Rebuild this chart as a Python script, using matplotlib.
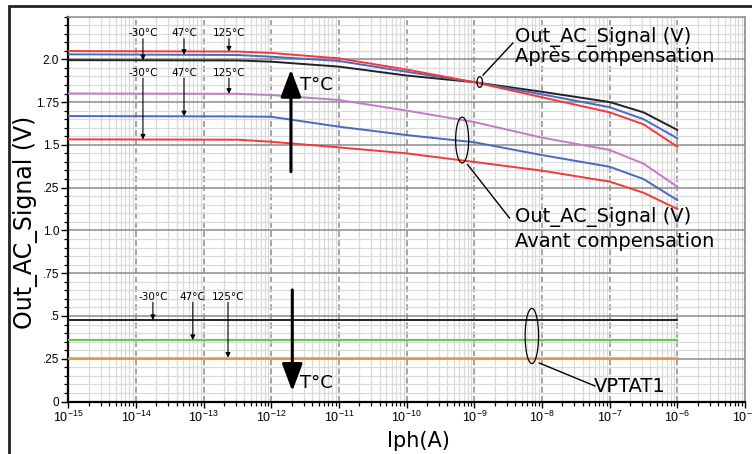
import numpy as np
import matplotlib
matplotlib.use("Agg")
import matplotlib.pyplot as plt
from matplotlib import font_manager
from matplotlib.patches import Rectangle
from matplotlib.ticker import FixedLocator, LogLocator, NullFormatter, FuncFormatter

# ---- data -------------------------------------------------------------
log_iph = [-15, -12.5, -12, -11, -10, -9, -8, -7, -6.5, -6]

# output signal after compensation (-30°C, 47°C, 125°C)
after_m30 = [1.995, 1.993, 1.986, 1.957, 1.905, 1.866, 1.810, 1.750, 1.690, 1.587]
after_47 = [2.029, 2.025, 2.015, 1.990, 1.927, 1.866, 1.795, 1.720, 1.650, 1.538]
after_125 = [2.048, 2.045, 2.037, 2.005, 1.940, 1.866, 1.778, 1.690, 1.620, 1.489]

# output signal before compensation (-30°C, 47°C, 125°C)
before_m30 = [1.532, 1.530, 1.518, 1.485, 1.450, 1.400, 1.349, 1.285, 1.220, 1.125]
before_47 = [1.668, 1.666, 1.664, 1.606, 1.557, 1.515, 1.440, 1.372, 1.300, 1.177]
before_125 = [1.800, 1.798, 1.791, 1.762, 1.700, 1.633, 1.542, 1.470, 1.390, 1.255]

# VPTAT1 levels (-30°C, 47°C, 125°C)
vptat_m30 = [0.476] * len(log_iph)
vptat_47 = [0.359] * len(log_iph)
vptat_125 = [0.256] * len(log_iph)

y_ticks = [0, 0.25, 0.5, 0.75, 1.0, 1.25, 1.5, 1.75, 2.0]
y_tick_labels = ["0", ".25", ".5", ".75", "1.0", ".25", "1.5", "1.75", "2.0"]
temp_labels = ["-30°C", "47°C", "125°C"]

iph = 10.0 ** np.array(log_iph)

# ---- fonts ------------------------------------------------------------
installed = {f.name for f in font_manager.fontManager.ttflist}
if "Liberation Sans Narrow" in installed:
    xtick_family, xtick_size = "Liberation Sans Narrow", 10.5
else:
    xtick_family, xtick_size = "Liberation Sans", 9
plt.rcParams["mathtext.fontset"] = "custom"
plt.rcParams["mathtext.rm"] = xtick_family
plt.rcParams["mathtext.it"] = xtick_family
plt.rcParams["mathtext.bf"] = xtick_family
WIDE = ["DejaVu Sans"]

# ---- figure -----------------------------------------------------------
W, H = 752, 454
fig = plt.figure(figsize=(W / 100, H / 100), dpi=100)
ax = fig.add_axes([68.3 / W, 1 - 401.5 / H, (745 - 68.3) / W, (401.5 - 16.5) / H])

RED, BLUE, BLACK = "#f23a3a", "#4a68c4", "#222222"
PURPLE, GREEN, ORANGE = "#c57ac8", "#72c353", "#e39a45"

ax.plot(iph, after_m30, color=BLACK, lw=1.4, zorder=5)
ax.plot(iph, after_47, color=BLUE, lw=1.4, zorder=5)
ax.plot(iph, after_125, color=RED, lw=1.4, zorder=5)
ax.plot(iph, before_125, color=PURPLE, lw=1.4, zorder=5)
ax.plot(iph, before_47, color=BLUE, lw=1.4, zorder=5)
ax.plot(iph, before_m30, color=RED, lw=1.4, zorder=5)
ax.plot(iph, vptat_m30, color=BLACK, lw=1.4, zorder=5)
ax.plot(iph, vptat_47, color=GREEN, lw=1.6, zorder=5)
ax.plot(iph, vptat_125, color=ORANGE, lw=1.8, zorder=5)

ax.set_xscale("log")
ax.set_xlim(1e-15, 1e-5)
ax.set_ylim(0, 2.25)

# grid
ax.set_axisbelow(True)
ax.xaxis.set_major_locator(LogLocator(base=10, numticks=20))
ax.xaxis.set_minor_locator(LogLocator(base=10, subs=np.arange(2, 10), numticks=20))
ax.xaxis.set_minor_formatter(NullFormatter())
ax.yaxis.set_major_locator(FixedLocator(y_ticks))
ax.yaxis.set_minor_locator(FixedLocator(np.round(np.arange(0, 2.2501, 0.05), 2)))
ax.set_yticklabels(y_tick_labels)
ax.grid(which="minor", color="#dadada", lw=0.9)
ax.grid(which="major", axis="y", color="#8c8c8c", lw=1.1)
ax.grid(which="major", axis="x", color="#8c8c8c", lw=1.1, ls=(0, (4, 2)))


def sci(v, _):
    return r"$10^{%d}$" % int(round(np.log10(v)))


ax.xaxis.set_major_formatter(FuncFormatter(sci))
for lab in ax.get_xticklabels():
    lab.set_family(xtick_family)
    lab.set_fontsize(xtick_size)
for lab in ax.get_yticklabels():
    lab.set_family(["Liberation Sans", "DejaVu Sans"])
    lab.set_fontsize(8.5)

ax.tick_params(which="major", direction="out", length=4, width=1.0, color="black", pad=2)
ax.tick_params(which="minor", direction="out", length=3, width=0.9, color="black")
ax.tick_params(axis="y", which="major", length=5, pad=1.5)

for s in ("left", "bottom"):
    ax.spines[s].set_color("black")
    ax.spines[s].set_linewidth(1.6)
for s in ("top", "right"):
    ax.spines[s].set_color("#8c8c8c")
    ax.spines[s].set_linewidth(1.1)

ax.set_xlabel("Iph(A)", family=WIDE, fontsize=15, va="top")
ax.xaxis.set_label_coords((418 - 68.3) / (745 - 68.3), -(431 - 401.5) / 385)
ax.set_ylabel("Out_AC_Signal (V)", family=WIDE, fontsize=17)
ax.yaxis.set_label_coords(-(68.3 - 38) / (745 - 68.3), 0.466)

# ---- temperature markers ---------------------------------------------
small = dict(family=WIDE, fontsize=7.5, ha="center", va="baseline")
arrow_thin = dict(arrowstyle="-|>", color="black", lw=0.8, mutation_scale=7, shrinkA=0, shrinkB=0)


def mark(log_x, y_start, series):
    y_tip = np.interp(log_x, log_iph, series)
    ax.annotate("", xy=(10 ** log_x, y_tip), xytext=(10 ** log_x, y_start),
                arrowprops=arrow_thin, zorder=7)


top_x = [-13.897, -13.29, -12.626]
for lx, t, s in zip(top_x, temp_labels, [after_m30, after_47, after_125]):
    ax.text(10 ** lx, 2.135, t, **small)
    mark(lx, 2.12, s)
for lx, t, s in zip(top_x, temp_labels, [before_m30, before_47, before_125]):
    ax.text(10 ** lx, 1.905, t, **small)
    mark(lx, 1.89, s)
bot_x = [-13.75, -13.16, -12.64]
for lx, t, s in zip(bot_x, temp_labels, [vptat_m30, vptat_47, vptat_125]):
    ax.text(10 ** lx, 0.595, t, **small)
    mark(lx, 0.58, s)

# ---- large T°C arrows -------------------------------------------------
arrow_big = dict(arrowstyle="-|>,head_length=1.2,head_width=0.45", color="black", lw=2.2,
                 mutation_scale=14, shrinkA=0, shrinkB=0)
ax.annotate("", xy=(10 ** -11.71, 1.94), xytext=(10 ** -11.71, 1.343), arrowprops=arrow_big, zorder=8)
ax.annotate("", xy=(10 ** -11.69, 0.06), xytext=(10 ** -11.69, 0.652), arrowprops=arrow_big, zorder=8)
big = dict(family=WIDE, fontsize=13, ha="left", va="center")
ax.text(10 ** -11.57, 1.85, "T°C", **big)
ax.text(10 ** -11.57, 0.11, "T°C", **big)

# ---- grouping ellipses and callouts -----------------------------------
t = np.linspace(0, 2 * np.pi, 100)


def ellipse(cx, cy, a, b):
    ax.plot(10 ** (cx + a * np.cos(t)), cy + b * np.sin(t), color="black", lw=0.9, zorder=7)


def leader(x0, y0, x1, y1):
    ax.plot([10 ** x0, 10 ** x1], [y0, y1], color="black", lw=1.0, zorder=7)


ellipse(-8.92, 1.867, 0.04, 0.031)
leader(-8.87, 1.908, -8.43, 2.095)
ellipse(-9.18, 1.528, 0.096, 0.134)
leader(-9.10, 1.385, -8.48, 1.072)
ellipse(-8.15, 0.383, 0.099, 0.161)
leader(-8.04, 0.225, -7.22, 0.091)

note = dict(family=WIDE, fontsize=14, ha="left", va="baseline", zorder=9)
ax.text(10 ** -8.40, 2.103, "Out_AC_Signal (V)", **note)
ax.text(10 ** -8.40, 1.984, "Après compensation", **note)
ax.text(10 ** -8.40, 1.049, "Out_AC_Signal (V)", **note)
ax.text(10 ** -8.40, 0.905, "Avant compensation", **note)
ax.text(10 ** -7.23, 0.056, "VPTAT1", **note)

# outer frame
fig.patches.append(Rectangle((9 / W, -0.1), 1.2, 1 - 6 / H + 0.1, transform=fig.transFigure,
                             fill=False, edgecolor="#222222", lw=2.0))

fig.savefig("out.png", dpi=100)
